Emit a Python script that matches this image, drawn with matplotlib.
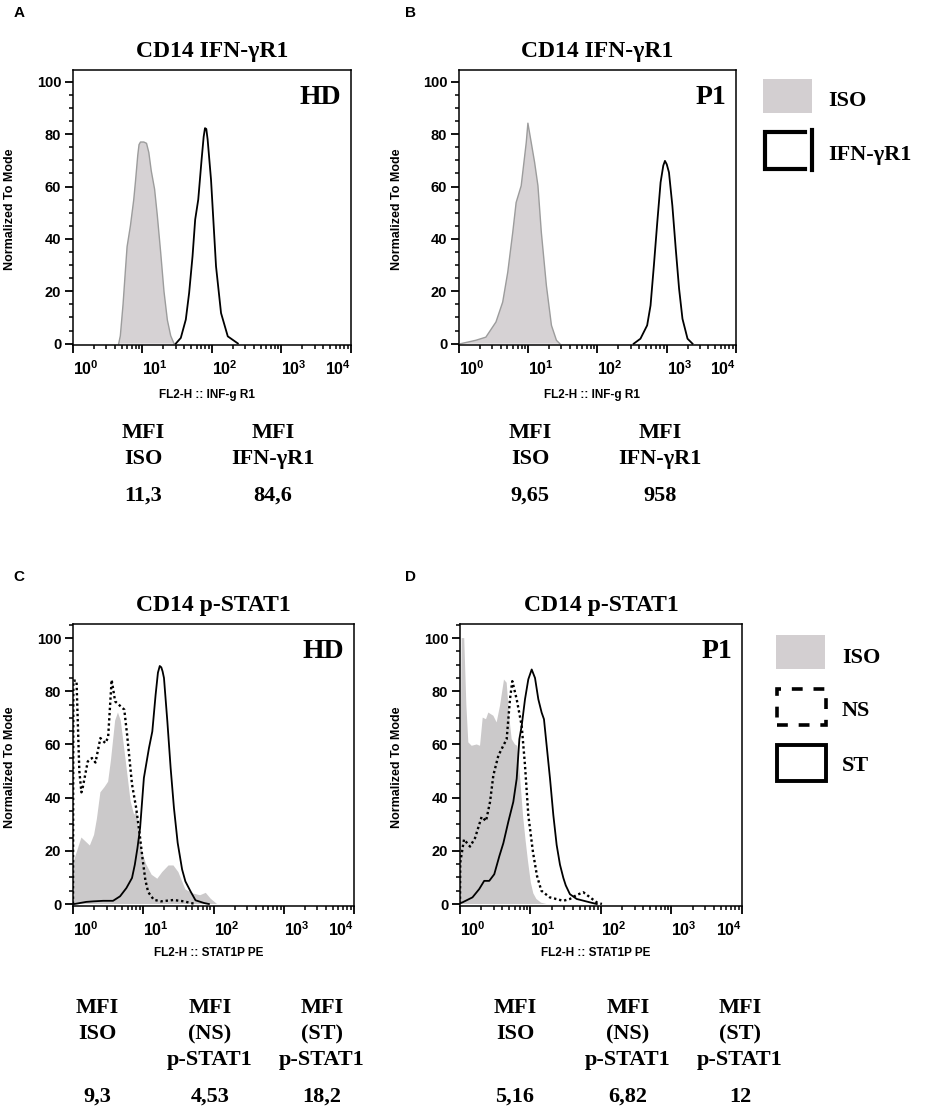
import numpy as np
import matplotlib
matplotlib.use('Agg')
import matplotlib.pyplot as plt
from matplotlib.ticker import MultipleLocator, LogLocator, NullFormatter, FixedLocator
from matplotlib.patches import Rectangle
from matplotlib.lines import Line2D

plt.rcParams['mathtext.fontset'] = 'custom'
plt.rcParams['mathtext.rm'] = 'Liberation Sans:bold'
plt.rcParams['mathtext.bf'] = 'Liberation Sans:bold'
plt.rcParams['mathtext.default'] = 'rm'

W, H = 928, 1110
SERIF = 'Liberation Serif'
SANS = 'Liberation Sans'

# ---- data: log10(fluorescence), % of mode ----
# A: HD, IFN-gR1
iso_a_log = [0.657, 0.681, 0.720, 0.754, 0.778, 0.826, 0.874, 0.899, 0.932, 0.950, 0.971, 1.019,
             1.058, 1.091, 1.126, 1.174, 1.213, 1.261, 1.309, 1.358, 1.406, 1.454]
iso_a_val = [0, 3, 15, 28, 37, 45, 55, 62, 72, 76, 77, 77, 76.5, 73, 66, 59, 49, 35, 20, 9, 3, 0]
ifn_a_log = [1.478, 1.551, 1.623, 1.671, 1.720, 1.758, 1.802, 1.850, 1.880, 1.899, 1.918, 1.937,
             1.986, 2.058, 2.130, 2.227, 2.372]
ifn_a_val = [0, 2.2, 9.2, 19.4, 33.4, 47.4, 55, 70.2, 79, 82.3, 82, 78,
             62.6, 29.5, 11.7, 2.8, 0.1]

# B: P1, IFN-gR1
iso_b_log = [0.024, 0.243, 0.388, 0.534, 0.631, 0.704, 0.776, 0.825, 0.898, 0.971, 0.995,
             1.043, 1.092, 1.140, 1.189, 1.262, 1.335, 1.407, 1.456]
iso_b_val = [0, 1.3, 2.5, 8.3, 15.9, 27.3, 42.5, 53.9, 60.3, 76.8, 84.2,
             76.8, 69.2, 60.3, 42.5, 22.2, 7.0, 1.3, 0]
ifn_b_log = [2.523, 2.620, 2.717, 2.766, 2.814, 2.863, 2.911, 2.950, 2.974, 3.000, 3.032, 3.081,
             3.130, 3.178, 3.227, 3.300, 3.372]
ifn_b_val = [0, 1.9, 7, 14.6, 29.8, 46.3, 61.6, 68, 69.8, 68.5, 65.4, 52.7,
             36.2, 21, 9.5, 1.9, 0]

# C: HD, p-STAT1
iso_c_log = [0.0, 0.01, 0.12, 0.24, 0.30, 0.34, 0.39, 0.45, 0.50, 0.54, 0.60, 0.64, 0.68,
             0.75, 0.82, 0.87, 0.905, 0.94, 0.98, 1.04, 1.12, 1.20, 1.27, 1.36, 1.43, 1.50,
             1.60, 1.70, 1.81, 1.89, 1.96, 2.05]
iso_c_val = [14, 16, 25, 22, 26, 32, 42, 44, 46, 54, 69, 72, 69,
             54, 38.6, 33.6, 35, 28, 20, 15, 11, 9.5, 12, 14.5, 14.5, 12,
             5.5, 4, 3.3, 4.2, 2, 0]
ns_c_log = [0.0, 0.005, 0.05, 0.09, 0.12, 0.14, 0.21, 0.27, 0.32, 0.39, 0.46, 0.50, 0.55,
            0.60, 0.73, 0.77, 0.84, 0.90, 0.95, 0.99, 1.03, 1.07, 1.15, 1.25, 1.43, 1.58,
            1.67, 1.75]
ns_c_val = [0, 84, 84, 50, 42, 44, 53.6, 54.9, 53.2, 62.4, 60.5, 62.7, 84.3,
            76.2, 73.1, 63.7, 45, 36, 26, 17, 9, 4.5, 1.6, 1, 1.5, 1,
            0.4, 0]
st_c_log = [0.0, 0.02, 0.19, 0.29, 0.43, 0.57, 0.67, 0.76, 0.84, 0.88, 0.917, 0.955, 1.009,
            1.081, 1.129, 1.176, 1.209, 1.235, 1.257, 1.275, 1.295, 1.343, 1.39, 1.437, 1.49,
            1.553, 1.60, 1.672, 1.744, 1.862, 1.934]
st_c_val = [0, 0, 0.8, 1, 1.2, 1.2, 2.9, 6, 9.8, 14.8, 21, 28.6, 47.4,
            58.6, 64.9, 78.7, 87, 89.5, 89, 87.5, 85, 68.7, 51.1, 36.1, 23,
            13, 8.5, 4.8, 1.4, 0.4, 0]

# D: P1, p-STAT1
iso_d_log = [0.0, 0.024, 0.06, 0.09, 0.118, 0.166, 0.237, 0.284, 0.322, 0.369, 0.402, 0.473,
             0.52, 0.567, 0.624, 0.662, 0.70, 0.733, 0.78, 0.813, 0.851, 0.895, 0.93, 0.965,
             1.005, 1.04, 1.083, 1.15, 1.226]
iso_d_val = [35, 100, 100, 75, 60.8, 59.5, 60, 59.5, 70.1, 69.5, 72, 70.8,
             68.3, 74.5, 84.4, 83.2, 70, 62, 60, 59.5, 48, 33, 24, 16,
             8, 4, 1.9, 0.5, 0]
ns_d_log = [0.0, 0.003, 0.057, 0.142, 0.213, 0.307, 0.369, 0.426, 0.473, 0.544, 0.615, 0.662,
            0.709, 0.742, 0.804, 0.875, 0.922, 0.969, 1.035, 1.092, 1.154, 1.273, 1.464,
            1.559, 1.655, 1.75, 1.845, 1.94, 2.013]
ns_d_val = [0, 15.5, 24.3, 21.6, 24.8, 32.8, 31.2, 38.4, 48.4, 55.8, 59.6, 62,
            77, 83.8, 77, 67, 52.1, 33.4, 19.5, 10.6, 5, 2.5, 1.2,
            1.9, 3.4, 4.4, 2.5, 0.6, 0]
st_d_log = [0.0, 0.034, 0.177, 0.272, 0.343, 0.415, 0.486, 0.558, 0.615, 0.686, 0.756, 0.804,
            0.842, 0.875, 0.922, 0.969, 1.017, 1.064, 1.111, 1.158, 1.191, 1.229, 1.277,
            1.324, 1.371, 1.418, 1.466, 1.50, 1.559, 1.655, 1.845, 1.94]
st_d_val = [0.3, 0.6, 2.5, 5.6, 8.7, 8.7, 11.2, 18, 22.9, 31, 38.4, 47.1,
            62, 67, 77, 84.5, 88.2, 85, 77, 72, 69.5, 59.6, 47.1,
            33.4, 22.2, 14.8, 9.8, 7, 3.7, 1.9, 0.6, 0]

titles = ['CD14 IFN-γR1', 'CD14 IFN-γR1', 'CD14 p-STAT1', 'CD14 p-STAT1']
subjects = ['HD', 'P1', 'HD', 'P1']
letters = ['A', 'B', 'C', 'D']
xlabels = ['FL2-H :: INF-g R1', 'FL2-H :: INF-g R1', 'FL2-H :: STAT1P PE', 'FL2-H :: STAT1P PE']
ylabel = 'Normalized To Mode'
xtick_vals = [1, 10, 100, 1000, 10000]
xtick_labels = [r'$10^{0}$', r'$10^{1}$', r'$10^{2}$', r'$10^{3}$', r'$10^{4}$']
ytick_vals = [0, 20, 40, 60, 80, 100]

mfi_top_heads = [['MFI', 'ISO'], ['MFI', 'IFN-γR1']]
mfi_a_vals = ['11,3', '84,6']
mfi_b_vals = ['9,65', '958']
mfi_bot_heads = [['MFI', 'ISO'], ['MFI', '(NS)', 'p-STAT1'], ['MFI', '(ST)', 'p-STAT1']]
mfi_c_vals = ['9,3', '4,53', '18,2']
mfi_d_vals = ['5,16', '6,82', '12']

legend_top = ['ISO', 'IFN-γR1']
legend_bot = ['ISO', 'NS', 'ST']

# ---- layout (pixels) ----
boxes = [(73, 70, 351, 345), (459, 70, 736, 345), (73, 624, 354, 906), (460, 624, 742, 906)]
ylims = [(-0.5, 104.5), (-0.5, 104.5), (-0.75, 105.3), (-0.75, 105.3)]


def fx(x):
    return x / W


def fy(y):
    return 1 - y / H


fig = plt.figure(figsize=(W / 100, H / 100), dpi=100)
fig.patch.set_facecolor('white')

axes = []
for i, (l, t, r, b) in enumerate(boxes):
    ax = fig.add_axes([fx(l), fy(b), (r - l) / W, (b - t) / H])
    ax.set_xscale('log')
    ax.set_xlim(1, 1e4)
    ax.set_ylim(*ylims[i])
    for sp in ax.spines.values():
        sp.set_linewidth(1.1)
        sp.set_color('black')
    ax.set_yticks(ytick_vals)
    ax.set_yticklabels([str(v) for v in ytick_vals], fontfamily=SANS, fontweight='bold',
                       fontsize=10.5)
    ax.yaxis.set_minor_locator(MultipleLocator(5))
    ax.xaxis.set_major_locator(FixedLocator(xtick_vals))
    ax.set_xticklabels(xtick_labels, fontsize=11.5)
    ax.xaxis.set_minor_locator(LogLocator(base=10, subs=np.arange(2, 10)))
    ax.xaxis.set_minor_formatter(NullFormatter())
    ax.tick_params(axis='y', which='major', direction='out', length=6, width=1.3, pad=2.5)
    ax.tick_params(axis='x', which='major', direction='out', length=6, width=1.3, pad=4)
    ax.tick_params(axis='both', which='minor', direction='out', length=3.2, width=1.1)
    ax.tick_params(top=False, right=False, which='both')
    for j, lab in enumerate(ax.get_xticklabels()):
        lab.set_ha('left' if j < 4 else 'right')
    axes.append(ax)
    cx = (l + r) / 2
    fig.text(fx(cx), fy(57 if i < 2 else 611), titles[i], family=SERIF, fontweight='bold',
             fontsize=17, ha='center', va='baseline')
    ax.text(1 - 10 / (r - l), 1 - 34 / (b - t), subjects[i], transform=ax.transAxes,
            family=SERIF, fontweight='bold', fontsize=20, ha='right', va='baseline')
    fig.text(fx(19 if i % 2 == 0 else 411), fy(17 if i < 2 else 581), letters[i], family=SANS,
             fontweight='bold', fontsize=11, ha='center', va='baseline')
    fig.text(fx(10 if i % 2 == 0 else 397), fy((t + b) / 2 + 2), ylabel, family=SANS,
             fontweight='bold', fontsize=9, rotation=90, ha='center', va='center')
    fig.text(fx(cx - 5), fy(395 if i < 2 else 953), xlabels[i], family=SANS,
             fontweight='bold', fontsize=8.5, ha='center', va='center')

fill_ab = '#d6d2d4'
edge_ab = '#9c9c9c'
fill_cd = '#cbc9ca'


def to_x(logs):
    return 10 ** np.array(logs)


axA, axB, axC, axD = axes
axA.fill_between(to_x(iso_a_log), iso_a_val, 0, facecolor=fill_ab, edgecolor='none')
axA.plot(to_x(iso_a_log), iso_a_val, color=edge_ab, lw=1.0)
axA.plot(to_x(ifn_a_log), ifn_a_val, color='black', lw=1.3, solid_joinstyle='round')

axB.fill_between(to_x(iso_b_log), iso_b_val, 0, facecolor=fill_ab, edgecolor='none')
axB.plot(to_x(iso_b_log), iso_b_val, color=edge_ab, lw=1.0)
axB.plot(to_x(ifn_b_log), ifn_b_val, color='black', lw=1.3, solid_joinstyle='round')

axC.fill_between(to_x(iso_c_log), iso_c_val, 0, facecolor=fill_cd, edgecolor='none')
axC.plot(to_x(ns_c_log), ns_c_val, color='black', lw=1.7, ls=(0, (1, 1.2)))
axC.plot(to_x(st_c_log), st_c_val, color='black', lw=1.3, solid_joinstyle='round')

axD.fill_between(to_x(iso_d_log), iso_d_val, 0, facecolor=fill_cd, edgecolor='none')
axD.plot(to_x(ns_d_log), ns_d_val, color='black', lw=1.7, ls=(0, (1, 1.2)))
axD.plot(to_x(st_d_log), st_d_val, color='black', lw=1.3, solid_joinstyle='round')

# ---- MFI tables ----
top_cols = [[143, 273], [530, 660]]
for cols, vals in zip(top_cols, [mfi_a_vals, mfi_b_vals]):
    for cx, head, v in zip(cols, mfi_top_heads, vals):
        for k, line in enumerate(head):
            fig.text(fx(cx), fy(438 + 26 * k), line, family=SERIF, fontweight='bold',
                     fontsize=16, ha='center', va='baseline')
        fig.text(fx(cx), fy(501), v, family=SERIF, fontweight='bold', fontsize=16,
                 ha='center', va='baseline')

bot_cols = [[97, 210, 322], [515, 628, 740]]
for cols, vals in zip(bot_cols, [mfi_c_vals, mfi_d_vals]):
    for cx, head, v in zip(cols, mfi_bot_heads, vals):
        for k, line in enumerate(head):
            fig.text(fx(cx), fy(1013 + 26 * k), line, family=SERIF, fontweight='bold',
                     fontsize=16, ha='center', va='baseline')
        fig.text(fx(cx), fy(1102), v, family=SERIF, fontweight='bold', fontsize=16,
                 ha='center', va='baseline')

# ---- legends ----
def px_rect(x0, y0, x1, y1, **kw):
    fig.add_artist(Rectangle((fx(x0), fy(y1)), (x1 - x0) / W, (y1 - y0) / H,
                             transform=fig.transFigure, **kw))


def px_line(xs, ys, **kw):
    fig.add_artist(Line2D([fx(x) for x in xs], [fy(y) for y in ys],
                          transform=fig.transFigure, **kw))


px_rect(763, 79, 812, 113, facecolor='#d3cfd1', edgecolor='none')
px_line([805, 765, 765, 805], [131.5, 131.5, 168.5, 168.5], color='black', lw=3,
        solid_joinstyle='miter')
px_line([812, 812], [130, 170], color='black', lw=3)
for label, yb in zip(legend_top, [106, 160]):
    fig.text(fx(828), fy(yb), label, family=SERIF, fontweight='bold', fontsize=16,
             ha='left', va='baseline')

px_rect(776, 635, 825, 669, facecolor='#d3cfd1', edgecolor='none')
px_rect(777, 689, 826, 725, facecolor='none', edgecolor='black', lw=2.6, ls=(0, (3, 3)))
px_rect(777, 745, 826, 781, facecolor='none', edgecolor='black', lw=2.8)
for label, yb in zip(legend_bot, [663, 716, 771]):
    fig.text(fx(842), fy(yb), label, family=SERIF, fontweight='bold', fontsize=16,
             ha='left', va='baseline')

fig.savefig('out.png', dpi=100, facecolor='white')
